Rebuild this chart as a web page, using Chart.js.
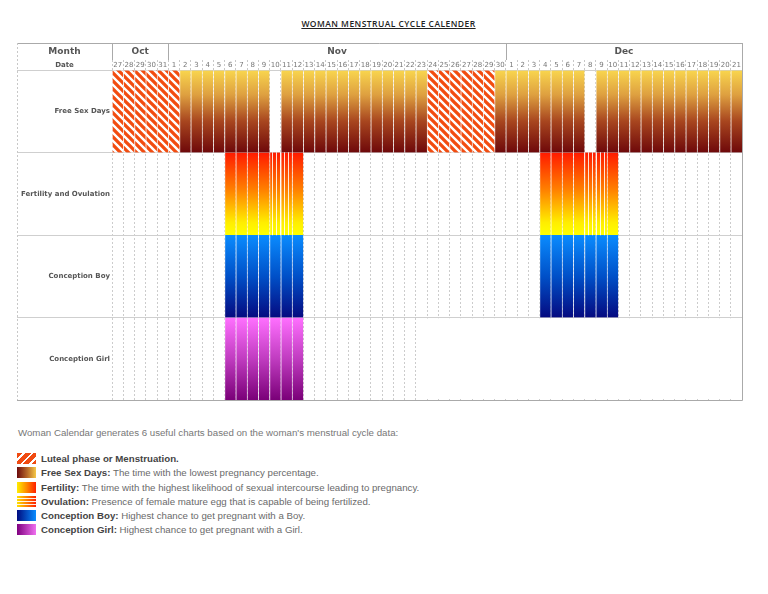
<!DOCTYPE html>
<html>
<head>
<meta charset="utf-8">
<script src="https://cdn.jsdelivr.net/npm/chart.js@4.4.0/dist/chart.umd.min.js"></script>
<style>
  body { margin: 0; background: #fff; font-family: "Liberation Sans", Arial, sans-serif; }
  #page { position: relative; width: 768px; height: 594px; overflow: hidden; }
  #title { position: absolute; top: 18px; left: 0; width: 777px; text-align: center;
           font: 600 8.5px "Open Sans", sans-serif; letter-spacing: 0.45px; color: #222; text-decoration: underline; }
  #cal { position: absolute; left: 0; top: 0; }
  #intro { position: absolute; left: 18px; top: 427px; font-size: 9.7px; color: #777; }
  #legend { position: absolute; left: 17px; top: 452px; font-size: 9.7px; color: #6a6a6a; }
  .item { height: 14.3px; line-height: 14px; white-space: nowrap; }
  .item b { color: #444; }
  .sw { display: inline-block; width: 19px; height: 11px; vertical-align: -2px; margin-right: 5px; }
  .lut { background: repeating-linear-gradient(135deg, #f04b12 0 4px, #fff 4px 6px); }
  .fsd { background: linear-gradient(to right, #6b0a0c, #b86a2a 55%, #f5c848); }
  .fer { background: linear-gradient(to right, #ffee00, #ff8a00 50%, #ff2000); }
  .ovu { background: repeating-linear-gradient(to bottom, transparent 0 2px, rgba(255,255,255,0.9) 2px 3px),
                     linear-gradient(to right, #ffe000, #ff2000); }
  .boy { background: linear-gradient(to right, #000c80, #0a8cff); }
  .girl { background: linear-gradient(to right, #800080, #f070f0); }
</style>
</head>
<body>
<div id="page">
  <div id="title">WOMAN MENSTRUAL CYCLE CALENDER</div>
  <canvas id="cal" width="768" height="410"></canvas>
  <div id="intro">Woman Calendar generates 6 useful charts based on the woman's menstrual cycle data:</div>
  <div id="legend">
    <div class="item"><span class="sw lut"></span><b>Luteal phase or Menstruation.</b></div>
    <div class="item"><span class="sw fsd"></span><b>Free Sex Days:</b> The time with the lowest pregnancy percentage.</div>
    <div class="item"><span class="sw fer"></span><b>Fertility:</b> The time with the highest likelihood of sexual intercourse leading to pregnancy.</div>
    <div class="item"><span class="sw ovu"></span><b>Ovulation:</b> Presence of female mature egg that is capable of being fertilized.</div>
    <div class="item"><span class="sw boy"></span><b>Conception Boy:</b> Highest chance to get pregnant with a Boy.</div>
    <div class="item"><span class="sw girl"></span><b>Conception Girl:</b> Highest chance to get pregnant with a Girl.</div>
  </div>
</div>
<script>
// calendar columns
const months = ['Oct', 'Nov', 'Dec'];
const monthDays = [5, 30, 21];
const dates = [
  '27', '28', '29', '30', '31',
  '1', '2', '3', '4', '5', '6', '7', '8', '9', '10', '11', '12', '13', '14', '15',
  '16', '17', '18', '19', '20', '21', '22', '23', '24', '25', '26', '27', '28', '29', '30',
  '1', '2', '3', '4', '5', '6', '7', '8', '9', '10', '11', '12', '13', '14', '15',
  '16', '17', '18', '19', '20', '21'
];
const rows = ['Free Sex Days', 'Fertility and Ovulation', 'Conception Boy', 'Conception Girl'];

// 1 = marked that day; one line per month (Oct 27-31, Nov 1-30, Dec 1-21)
const luteal = [
  1, 1, 1, 1, 1,
  1, 0, 0, 0, 0, 0, 0, 0, 0, 0, 0, 0, 0, 0, 0, 0, 0, 0, 0, 0, 0, 0, 0, 1, 1, 1, 1, 1, 1, 0,
  0, 0, 0, 0, 0, 0, 0, 0, 0, 0, 0, 0, 0, 0, 0, 0, 0, 0, 0, 0, 0
];
const freeSex = [
  0, 0, 0, 0, 0,
  0, 1, 1, 1, 1, 1, 1, 1, 1, 0, 1, 1, 1, 1, 1, 1, 1, 1, 1, 1, 1, 1, 1, 0, 0, 0, 0, 0, 0, 1,
  1, 1, 1, 1, 1, 1, 1, 0, 1, 1, 1, 1, 1, 1, 1, 1, 1, 1, 1, 1, 1
];
const fertility = [
  0, 0, 0, 0, 0,
  0, 0, 0, 0, 0, 1, 1, 1, 1, 0, 0, 1, 0, 0, 0, 0, 0, 0, 0, 0, 0, 0, 0, 0, 0, 0, 0, 0, 0, 0,
  0, 0, 0, 1, 1, 1, 1, 0, 0, 1, 0, 0, 0, 0, 0, 0, 0, 0, 0, 0, 0
];
const ovulation = [
  0, 0, 0, 0, 0,
  0, 0, 0, 0, 0, 0, 0, 0, 0, 1, 1, 0, 0, 0, 0, 0, 0, 0, 0, 0, 0, 0, 0, 0, 0, 0, 0, 0, 0, 0,
  0, 0, 0, 0, 0, 0, 0, 1, 1, 0, 0, 0, 0, 0, 0, 0, 0, 0, 0, 0, 0
];
const boy = [
  0, 0, 0, 0, 0,
  0, 0, 0, 0, 0, 1, 1, 1, 1, 1, 1, 1, 0, 0, 0, 0, 0, 0, 0, 0, 0, 0, 0, 0, 0, 0, 0, 0, 0, 0,
  0, 0, 0, 1, 1, 1, 1, 1, 1, 1, 0, 0, 0, 0, 0, 0, 0, 0, 0, 0, 0
];
// null = day not covered by the girl calendar
const N = null;
const girl = [
  0, 0, 0, 0, 0,
  0, 0, 0, 0, 0, 1, 1, 1, 1, 1, 1, 1, 0, 0, 0, 0, 0, 0, 0, 0, 0, 0, 0, N, N, N, N, N, N, N,
  N, N, N, N, N, N, N, N, N, N, N, N, N, N, N, N, N, N, N, N, N
];

const toBars = (flags, row) => flags.map(f => f ? [row, row + 1] : null);

function vGrad(stops, row) {
  return c => {
    const ch = c.chart;
    if (!ch.chartArea) return stops[0][1];
    const y = ch.scales.y;
    const g = ch.ctx.createLinearGradient(0, y.getPixelForValue(row), 0, y.getPixelForValue(row + 1));
    stops.forEach(s => g.addColorStop(s[0], s[1]));
    return g;
  };
}

function hatch() {
  const s = 8;
  const cv = document.createElement('canvas');
  cv.width = cv.height = s;
  const x = cv.getContext('2d');
  x.fillStyle = '#fff';
  x.fillRect(0, 0, s, s);
  x.strokeStyle = '#f24c10';
  x.lineWidth = 3.3;
  x.beginPath();
  for (let o = -s; o <= s; o += s) {
    x.moveTo(o - 2, -2);
    x.lineTo(o + s + 2, s + 2);
  }
  x.stroke();
  return x.createPattern(cv, 'repeat');
}

function stripes() {
  const cv = document.createElement('canvas');
  cv.width = 4; cv.height = 4;
  const x = cv.getContext('2d');
  x.fillStyle = 'rgba(255,255,255,0.85)';
  x.fillRect(0, 0, 1, 4);
  return x.createPattern(cv, 'repeat');
}

const freeGrad = [[0, '#f9d64e'], [0.3, '#dea040'], [0.62, '#a8461f'], [1, '#6e080a']];
const fertGrad = [[0, '#ff1a00'], [0.45, '#ff8000'], [0.85, '#ffee00'], [1, '#ffff00']];
const boyGrad = [[0, '#0a8cff'], [0.5, '#0050c8'], [1, '#050a80']];
const girlGrad = [[0, '#ff70ff'], [0.5, '#c03cc0'], [1, '#7a0078']];

const colEdge = (sc, i) => {
  const w = sc.getPixelForValue(1) - sc.getPixelForValue(0);
  return sc.getPixelForValue(i) - w / 2;
};

const headerPlugin = {
  id: 'header',
  afterDraw(chart) {
    const { ctx, chartArea: a, scales: { x, y } } = chart;
    const top = 43, mid = 60, left = 17;
    ctx.save();
    // cells outside the girl calendar
    ctx.fillStyle = '#fff';
    const gTop = y.getPixelForValue(3) + 1, gBot = y.getPixelForValue(4) - 1;
    girl.forEach((g, i) => {
      if (g === null) {
        const x0 = colEdge(x, i);
        ctx.fillRect(x0 - 1, gTop, colEdge(x, i + 1) - x0 + 2, gBot - gTop);
      }
    });
    ctx.strokeStyle = '#aaa';
    ctx.lineWidth = 1;
    ctx.beginPath();
    ctx.moveTo(left, top + 0.5); ctx.lineTo(a.right + 0.5, top + 0.5);
    ctx.moveTo(a.right + 0.5, top); ctx.lineTo(a.right + 0.5, a.bottom + 0.5);
    ctx.moveTo(left, a.bottom + 0.5); ctx.lineTo(a.right + 0.5, a.bottom + 0.5);
    let idx = 0;
    const edges = [0];
    monthDays.forEach(d => { idx += d; edges.push(idx); });
    edges.forEach(e => {
      const px = Math.round(colEdge(x, e)) + 0.5;
      ctx.moveTo(px, top); ctx.lineTo(px, mid);
    });
    ctx.stroke();
    ctx.strokeStyle = '#c8c8c8';
    ctx.setLineDash([2, 2]);
    ctx.beginPath();
    ctx.moveTo(left + 0.5, top); ctx.lineTo(left + 0.5, a.bottom);
    ctx.stroke();
    ctx.setLineDash([]);
    ctx.fillStyle = '#555';
    ctx.textAlign = 'center';
    ctx.textBaseline = 'middle';
    ctx.font = 'bold 9px "DejaVu Sans"';
    const labelMid = (left + a.left) / 2;
    ctx.fillText('Month', labelMid, 51.5);
    months.forEach((m, k) => {
      ctx.fillText(m, (colEdge(x, edges[k]) + colEdge(x, edges[k + 1])) / 2, 51.5);
    });
    ctx.font = 'bold 7px "DejaVu Sans"';
    ctx.fillText('Date', labelMid, 65);
    ctx.restore();
  }
};

new Chart(document.getElementById('cal'), {
  type: 'bar',
  data: {
    labels: dates,
    datasets: [
      { label: 'Ovulation stripes', data: toBars(ovulation, 1), backgroundColor: stripes(), order: 0, borderWidth: 0 },
      { label: 'Luteal phase or Menstruation', data: toBars(luteal, 0), backgroundColor: hatch(), order: 1 },
      { label: 'Free Sex Days', data: toBars(freeSex, 0), backgroundColor: vGrad(freeGrad, 0), order: 1 },
      { label: 'Fertility', data: toBars(fertility, 1), backgroundColor: vGrad(fertGrad, 1), order: 1 },
      { label: 'Ovulation', data: toBars(ovulation, 1), backgroundColor: vGrad(fertGrad, 1), order: 1 },
      { label: 'Conception Boy', data: toBars(boy, 2), backgroundColor: vGrad(boyGrad, 2), order: 1 },
      { label: 'Conception Girl', data: toBars(girl, 3), backgroundColor: vGrad(girlGrad, 3), order: 1 }
    ]
  },
  options: {
    responsive: false,
    animation: false,
    devicePixelRatio: 1,
    layout: { padding: { left: 17, top: 43, right: 26, bottom: 10 } },
    plugins: { legend: { display: false }, tooltip: { enabled: false } },
    datasets: {
      bar: {
        barPercentage: 1, categoryPercentage: 1, grouped: false,
        borderColor: 'rgba(255,255,255,0.55)',
        borderWidth: { left: 1, right: 0, top: 0, bottom: 0 },
        borderSkipped: false
      }
    },
    scales: {
      x: {
        position: 'top',
        offset: true,
        z: 1,
        grid: { offset: true, color: 'rgba(195,195,195,0.85)', tickLength: 10, tickColor: '#c8c8c8', tickBorderDash: [2, 2] },
        border: { display: false, dash: [2, 2] },
        ticks: { autoSkip: false, maxRotation: 0, padding: -9, color: '#777', font: { family: 'DejaVu Sans', size: 7 } },
        afterFit: s => { s.height = 27; }
      },
      y: {
        min: 0,
        max: 4,
        reverse: true,
        grid: { color: c => Number.isInteger(c.tick.value) ? '#cfcfcf' : 'rgba(0,0,0,0)', tickLength: 95 },
        border: { display: false },
        ticks: {
          stepSize: 0.5,
          autoSkip: false,
          padding: -93,
          color: '#555',
          font: { family: 'DejaVu Sans', size: 7, weight: 'bold' },
          callback: v => (v % 1 === 0.5 ? rows[Math.floor(v)] : '')
        },
        afterFit: s => { s.width = 95; }
      }
    }
  },
  plugins: [headerPlugin]
});
</script>
</body>
</html>
